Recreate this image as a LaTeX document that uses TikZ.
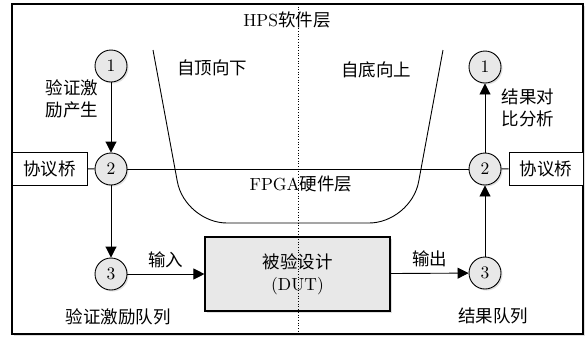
\documentclass[tikz,border=0pt]{standalone}
\usepackage{fontspec}
\setmainfont{lmroman10-regular.otf}
\newfontfamily\cjk{Noto Sans CJK SC}
\usetikzlibrary{arrows.meta,shadows}
\begin{document}
\begin{tikzpicture}[x=1pt,y=-1pt,
  every node/.style={font=\fontsize{17.5}{22}\selectfont, text=black},
  shad/.style={drop shadow={shadow xshift=1.5pt,shadow yshift=-1.5pt,opacity=0.25}},
  numc/.style={circle, draw, line width=0.9pt, fill=black!9, minimum size=32pt, inner sep=0pt, shad},
  bridge/.style={rectangle, draw, line width=0.9pt, fill=white, minimum width=75pt, minimum height=33pt, inner sep=0pt},
  conn/.style={line width=0.9pt},
  arr/.style={line width=0.9pt, -{Triangle[length=11pt,width=11pt]}},
  lbl/.style={align=center, inner sep=0pt}
]
\useasboundingbox (0,0) rectangle (585,338);
% outer frame
\node[rectangle, draw, line width=1.4pt, fill=white, minimum width=571pt, minimum height=330pt, inner sep=0pt, shad] (frame) at (297.5,169) {};

% U-shaped boundary
\draw[line width=0.9pt, rounded corners=42pt] (153,50) -- (185,223) -- (411,223) -- (443,50);

% texts of layers
\node[lbl] (hps) at (287,20) {HPS{\cjk 软件层}};
\node[lbl] (topdown) at (212,68) {\cjk 自顶向下};
\node[lbl] (bottomup) at (376,70) {\cjk 自底向上};
\node[lbl] (fpga) at (301,184) {FPGA{\cjk 硬件层}};

% circles
\node[numc] (c1L) at (111,66) {1};
\node[numc] (c2L) at (111,169) {2};
\node[numc] (c3L) at (111,274) {3};
\node[numc] (c1R) at (485,67) {1};
\node[numc] (c2R) at (485,169) {2};
\node[numc] (c3R) at (485,273) {3};

% bridges
\node[bridge] (bL) at (49.5,168.5) {\cjk 协议桥};
\node[bridge, minimum width=74pt] (bR) at (546,168.5) {\cjk 协议桥};

% DUT
\node[rectangle, draw, line width=1.1pt, fill=black!9, minimum width=185pt, minimum height=74pt, align=center, inner sep=0pt, shad] (dut) at (297.5,274) {{\cjk 被验设计}\\(DUT)};

% connectors
\draw[conn] (bL) -- (c2L);
\draw[conn] (c2L) -- (c2R);
\draw[conn] (c2R) -- (bR);
\draw[arr] (c1L) -- (c2L);
\draw[arr] (c2L) -- (c3L);
\draw[arr] (c3L) -- node[above=6pt, lbl] (in) {\cjk 输入} (dut);
\draw[arr] (dut) -- node[above=6pt, lbl] (out) {\cjk 输出} (c3R);
\draw[arr] (c3R) -- (c2R);
\draw[arr] (c2R) -- (c1R);

% labels
\node[lbl] (genL) at (72,99) {\cjk 验证激\\\cjk 励产生};
\node[lbl] (cmpR) at (528,108) {\cjk 结果对\\\cjk 比分析};
\node[lbl] (qL) at (118,317) {\cjk 验证激励队列};
\node[lbl] (qR) at (493,316) {\cjk 结果队列};

% dotted separator
\coordinate (dtop) at (298,4);
\coordinate (dbot) at (298,334);
\draw[line width=0.7pt, dotted] (dtop) -- (dbot);
\end{tikzpicture}
\end{document}
